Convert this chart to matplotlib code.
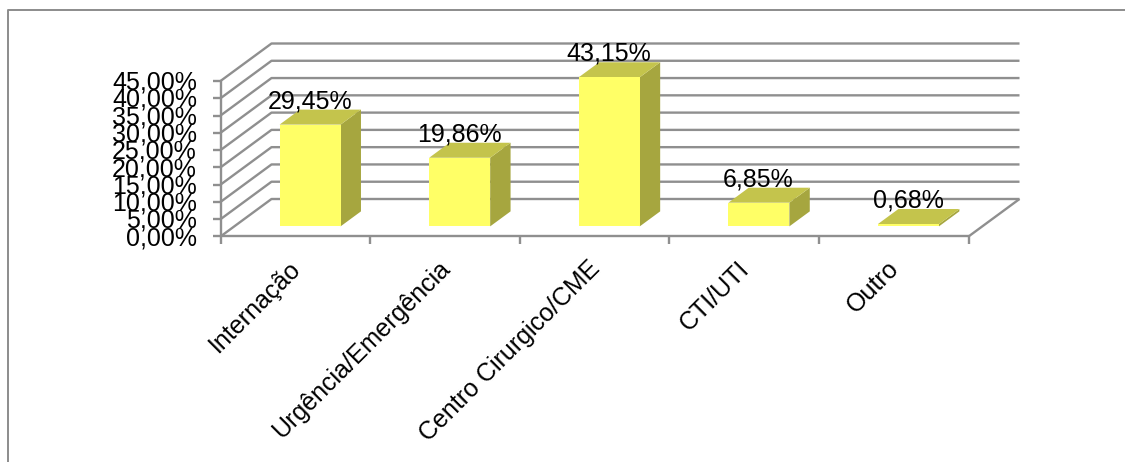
import matplotlib
matplotlib.use("Agg")
import matplotlib.pyplot as plt
from matplotlib.patches import Polygon
from matplotlib.lines import Line2D

categories = ["Internação", "Urgência/Emergência", "Centro Cirurgico/CME", "CTI/UTI", "Outro"]
values = [29.45, 19.86, 43.15, 6.85, 0.68]
value_labels = ["29,45%", "19,86%", "43,15%", "6,85%", "0,68%"]
yticks = [0, 5, 10, 15, 20, 25, 30, 35, 40, 45]
ytick_labels = ["0,00%", "5,00%", "10,00%", "15,00%", "20,00%", "25,00%", "30,00%", "35,00%", "40,00%", "45,00%"]

W, H = 1125, 462
FS = 18
plt.rcParams["font.family"] = ["Liberation Sans", "DejaVu Sans"]
fig = plt.figure(figsize=(W / 100, H / 100), dpi=100)
fig.patch.set_facecolor("white")
fig.add_artist(Line2D([7.5 / W, 7.5 / W, 1], [0, 1 - 9.5 / H, 1 - 9.5 / H], transform=fig.transFigure,
                      color="#8c8c8c", linewidth=1.4))

x0, x1, y0, ytop = 220.5, 968.5, 236.5, 81
ax = fig.add_axes([x0 / W, 1 - y0 / H, (x1 - x0) / W, (y0 - ytop) / H])
ax.set_xlim(0, len(categories))
ax.set_ylim(0, 45)
ax.axis("off")
px = (x1 - x0) / len(categories)
py = (y0 - ytop) / 45
DX, DY = 51 / px, 37.5 / py   # depth of the floor


def P(x, v, d):
    return (x + d * DX, v + d * DY)


grid = "#8f8f8f"
kw = dict(color=grid, linewidth=1.7, clip_on=False, solid_capstyle="butt", zorder=1)
for v, lab in zip(yticks, ytick_labels):
    a, b, c = P(0, v, 0), P(0, v, 1), P(len(categories), v, 1)
    ax.plot([a[0], b[0], c[0]], [a[1], b[1], c[1]], **kw)
    ax.plot([-8 / px, 0], [v, v], **kw)
    ax.annotate(lab, (0, v), xytext=(-17, -1.2), textcoords="offset points", ha="right", va="center",
                fontsize=FS, color="black", annotation_clip=False, zorder=5)
ax.plot([0, 0], [0, 45], **kw)
ax.plot([0, len(categories)], [0, 0], **kw)
a, b = P(len(categories), 0, 0), P(len(categories), 0, 1)
ax.plot([a[0], b[0]], [a[1], b[1]], **kw)
for i in range(len(categories) + 1):
    ax.plot([i, i], [0, -8 / py], **kw)

d_front, d_back = 0.27, 0.67
bw = 61 / px
for i, (v, lab, cat) in enumerate(zip(values, value_labels, categories)):
    left = i + 0.5 - bw / 2 + 1 / px
    right = left + bw
    front = [P(left, 0, d_front), P(right, 0, d_front), P(right, v, d_front), P(left, v, d_front)]
    side = [P(right, 0, d_front), P(right, 0, d_back), P(right, v, d_back), P(right, v, d_front)]
    top = [P(left, v, d_front), P(right, v, d_front), P(right, v, d_back), P(left, v, d_back)]
    ax.add_patch(Polygon(side, closed=True, facecolor="#a6a63f", edgecolor="none", clip_on=False, zorder=3))
    ax.add_patch(Polygon(top, closed=True, facecolor="#c4c44c", edgecolor="none", clip_on=False, zorder=3))
    ax.add_patch(Polygon(front, closed=True, facecolor="#ffff66", edgecolor="none", clip_on=False, zorder=3))
    lx = P(i + 0.5, v, d_front)[0]
    ly = P(i + 0.5, v, d_back)[1]
    ax.annotate(lab, (lx, ly), xytext=(0.5, 1), textcoords="offset points", ha="center", va="baseline",
                fontsize=FS, color="black", zorder=6, annotation_clip=False)
    ax.annotate(cat, (i + 0.5, 0), xytext=(-5, -14.5), textcoords="offset points", ha="right", va="top",
                rotation=45, rotation_mode="anchor", fontsize=FS, color="black", annotation_clip=False)

fig.savefig("out.png", dpi=100, facecolor="white")
